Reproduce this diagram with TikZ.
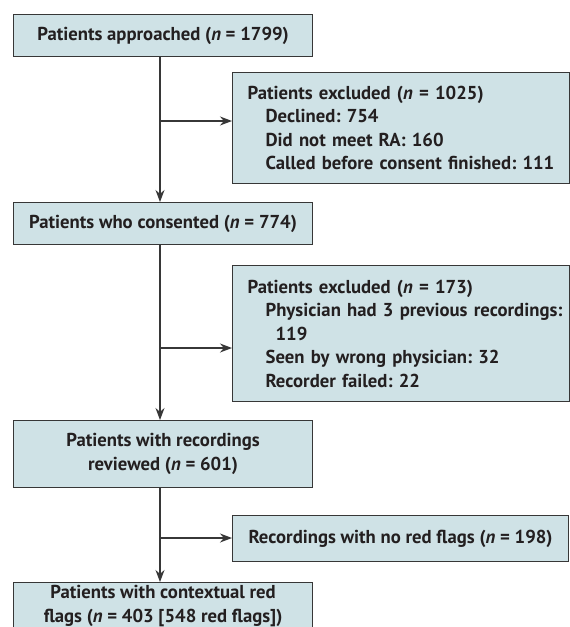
\documentclass[tikz,border=0pt]{standalone}
\usepackage{fontspec}
\setmainfont{PT Sans}
\usepackage{tikz}
\usetikzlibrary{arrows.meta, positioning, calc}
\definecolor{cajaazul}{RGB}{207,226,230}
\definecolor{bordegris}{RGB}{55,55,55}
\definecolor{textogris}{RGB}{35,31,32}
\newcommand{\nn}{\textit{n}}
\newcommand{\sangria}[1]{\mbox{\hspace*{18pt}#1}}
\frenchspacing

\begin{document}
\begin{tikzpicture}[x=1pt, y=-1pt,
  caja/.style={draw=bordegris, line width=1.2pt, fill=cajaazul, text=textogris,
    font=\fontsize{18.7}{23.5}\selectfont\bfseries, anchor=north west, inner sep=0pt},
  cajacentro/.style={caja, align=center, minimum width=299pt},
  cajaizq/.style={caja, align=left, inner xsep=15pt, text width=307pt, minimum width=337pt},
  flecha/.style={-{Stealth[length=12pt,width=9pt]}, line width=1.3pt, draw=bordegris}]

\clip (0,0) rectangle (570,627);

% Columna principal
\node[cajacentro, minimum height=42pt] (aprox) at (13,14) {Patients approached (\nn{} = 1799)};
\node[cajacentro, minimum height=42pt] (consent) at (13,202) {Patients who consented (\nn{} = 774)};
\node[cajacentro, minimum height=67pt] (revis) at (13,420) {Patients with recordings\\reviewed (\nn{} = 601)};
\node[cajacentro, minimum height=47pt] (banderas) at (13,582) {Patients with contextual red\\flags (\nn{} = 403 [548 red flags])};

% Excluidos
\node[cajaizq, minimum height=111pt] (excl1) at (232,72) {Patients excluded (\nn{} = 1025)\\
  \sangria{Declined: 754}\\
  \sangria{Did not meet RA: 160}\\
  \sangria{Called before consent finished: 111}};
\node[cajaizq, minimum height=136pt] (excl2) at (232,265) {Patients excluded (\nn{} = 173)\\
  \sangria{Physician had 3 previous recordings:}\\
  \hspace*{28pt}119\\
  \sangria{Seen by wrong physician: 32}\\
  \sangria{Recorder failed: 22}};
\node[caja, align=center, minimum width=336pt, minimum height=46pt] (sinband) at (232,515) {Recordings with no red flags (\nn{} = 198)};

% Flechas
\coordinate (r1) at (160,121);
\coordinate (r2) at (160,348);
\coordinate (r3) at (160,538);
\draw[flecha] (aprox.south -| r1) -- (consent.north -| r1);
\draw[flecha] (consent.south -| r2) -- (revis.north -| r2);
\draw[flecha] (revis.south -| r3) -- (banderas.north -| r3);
\draw[flecha] (r1) -- (r1 -| excl1.west);
\draw[flecha] (r2) -- (r2 -| excl2.west);
\draw[flecha] (r3) -- (r3 -| sinband.west);

\end{tikzpicture}
\end{document}
